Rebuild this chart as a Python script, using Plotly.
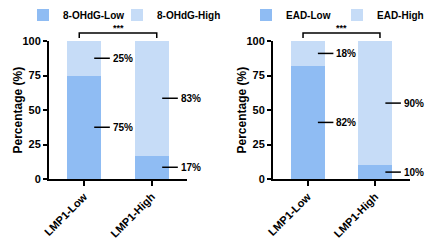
import plotly.graph_objects as go

# ---------------- data ----------------
categories = ["LMP1-Low", "LMP1-High"]
ohdg_low = [75, 17]
ohdg_high = [25, 83]
ead_low = [82, 10]
ead_high = [18, 90]
y_ticks = [0, 25, 50, 75, 100]
series_names = [("8-OHdG-Low", "8-OHdG-High"), ("EAD-Low", "EAD-High")]
y_title = "Percentage (%)"
significance = "***"

# ---------------- style ----------------
C_LOW = "#8fbcf3"
C_HIGH = "#c6dcf7"
FONT = "Liberation Sans, Arial, sans-serif"
W, H = 432, 243
X_RANGE = [-0.515, 1.515]
x_domains = [[49 / W, 187 / W], [273 / W, 410 / W]]
y_domain = [1 - 179 / H, 1 - 41 / H]
legend_x_px = [[23, 117], [246, 337]]
ytitle_x_px = [17.5, 241.5]

fig = go.Figure()

panels = [(ohdg_low, ohdg_high), (ead_low, ead_high)]
for i, (low, high) in enumerate(panels):
    xa = "x" if i == 0 else "x2"
    ya = "y" if i == 0 else "y2"
    lg_low = "legend" if i == 0 else "legend3"
    lg_high = "legend2" if i == 0 else "legend4"
    fig.add_trace(go.Bar(x=categories, y=low, name=series_names[i][0],
                         marker=dict(color=C_LOW, line=dict(width=0)),
                         width=0.5, xaxis=xa, yaxis=ya, legend=lg_low))
    fig.add_trace(go.Bar(x=categories, y=high, name=series_names[i][1],
                         marker=dict(color=C_HIGH, line=dict(width=0)),
                         width=0.5, xaxis=xa, yaxis=ya, legend=lg_high))

    # percentage labels with leader lines
    for ci in range(len(categories)):
        segs = [(0, low[ci]), (low[ci], low[ci] + high[ci])]
        for (a, b) in segs:
            mid = (a + b) / 2
            fig.add_shape(type="line", xref=xa, yref=ya,
                          x0=ci + 0.15, x1=ci + 0.38, y0=mid, y1=mid,
                          opacity=1, layer="above",
                          line=dict(color="black", width=1.5))
            fig.add_annotation(xref=xa, yref=ya, x=ci + 0.39, y=mid,
                               text=f"{b - a}%", showarrow=False,
                               xanchor="left", yanchor="middle",
                               font=dict(family=FONT, size=10, color="black", weight="bold"))

    # significance bracket
    def xd(v):
        return (v - X_RANGE[0]) / (X_RANGE[1] - X_RANGE[0])
    xdr = "x domain" if i == 0 else "x2 domain"
    yt, yb = 1 - 33 / H, 1 - 38 / H
    x0, x1 = xd(-0.07), xd(1.07)
    fig.add_shape(type="path", xref=xdr, yref="paper",
                  path=f"M {x0} {yb} L {x0} {yt} L {x1} {yt} L {x1} {yb}",
                  opacity=1, layer="above", fillcolor="rgba(0,0,0,0)",
                  line=dict(color="black", width=1.5))
    fig.add_annotation(xref=xdr, yref="paper", x=xd(0.5), y=1 - 28 / H,
                       text=significance, showarrow=False,
                       xanchor="center", yanchor="middle",
                       font=dict(family=FONT, size=9, color="black", weight="bold"))

    # y-axis title
    fig.add_annotation(xref="paper", yref="paper", x=ytitle_x_px[i] / W,
                       y=(y_domain[0] + y_domain[1]) / 2, text=y_title,
                       textangle=-90, showarrow=False,
                       xanchor="center", yanchor="middle",
                       font=dict(family=FONT, size=12, color="black", weight="bold"))

axis_common = dict(showline=True, linecolor="black", linewidth=2,
                   ticks="outside", tickcolor="black", tickwidth=1.5,
                   showgrid=False, zeroline=False, automargin=False,
                   tickfont=dict(family=FONT, size=11, color="black", weight="bold"))

for i in range(2):
    sfx = "" if i == 0 else "2"
    fig.update_layout(**{
        f"xaxis{sfx}": dict(axis_common, domain=x_domains[i], range=X_RANGE,
                            tickangle=-45, ticklen=5, anchor=f"y{sfx}"),
        f"yaxis{sfx}": dict(axis_common, domain=y_domain, range=[0, 100],
                            tickvals=y_ticks, ticklen=4, anchor=f"x{sfx}"),
    })

legend_common = dict(orientation="h", yanchor="middle", y=1 - 15 / H,
                     xanchor="left", bgcolor="rgba(0,0,0,0)",
                     font=dict(family=FONT, size=10, color="black", weight="bold"),
                     itemclick=False, itemdoubleclick=False)
fig.update_layout(
    legend=dict(legend_common, x=legend_x_px[0][0] / W),
    legend2=dict(legend_common, x=legend_x_px[0][1] / W),
    legend3=dict(legend_common, x=legend_x_px[1][0] / W),
    legend4=dict(legend_common, x=legend_x_px[1][1] / W),
    barmode="stack",
    width=W, height=H,
    margin=dict(l=0, r=0, t=0, b=0, autoexpand=False),
    paper_bgcolor="white", plot_bgcolor="white",
    template="simple_white",
    showlegend=True,
)

fig.write_html("out.html", config={"displayModeBar": False},
               post_script="document.body.style.margin='0';document.body.style.overflow='hidden';")
